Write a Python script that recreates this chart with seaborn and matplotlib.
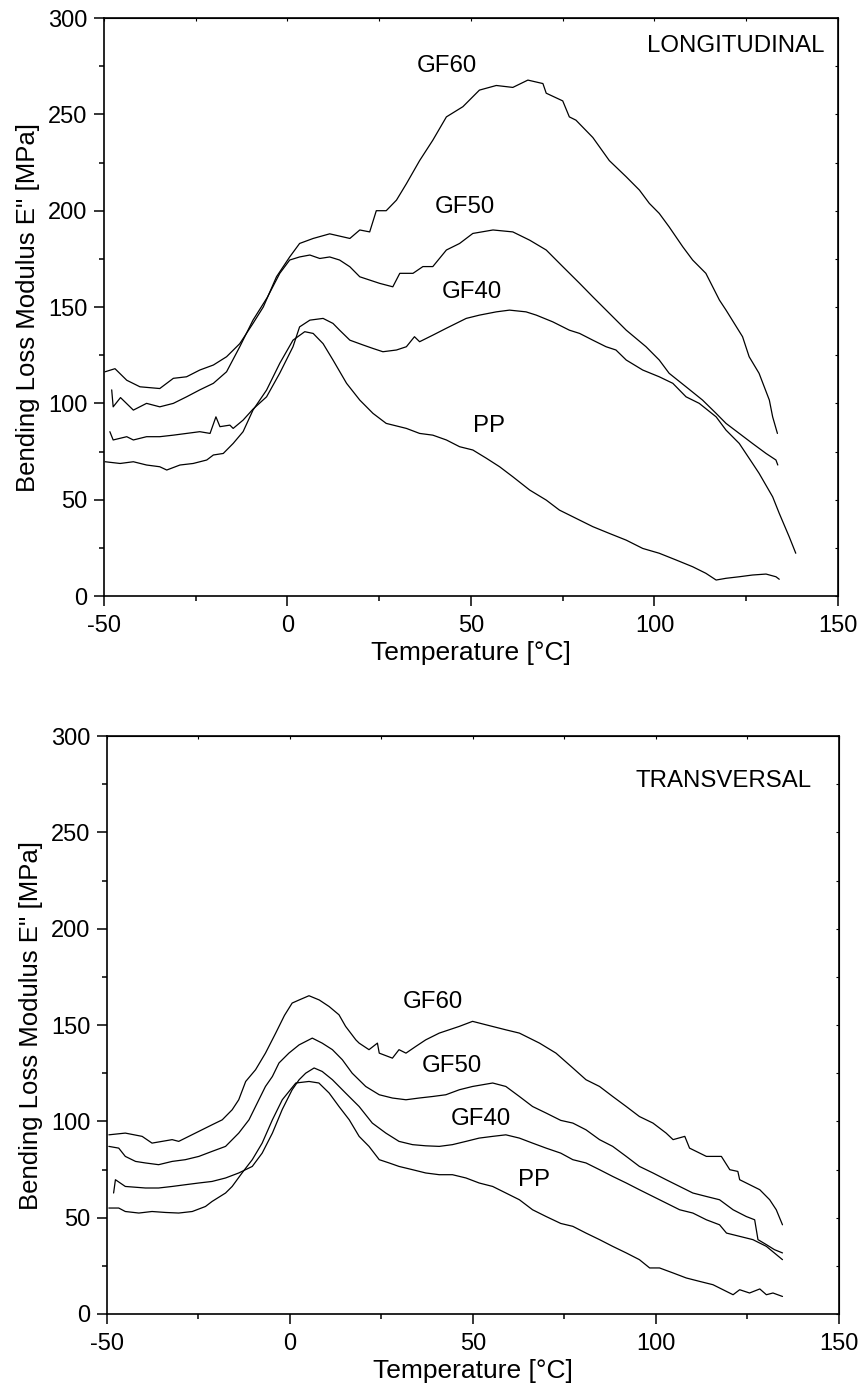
import matplotlib
matplotlib.use("Agg")
import matplotlib.pyplot as plt
import seaborn as sns
import pandas as pd
from matplotlib.ticker import MultipleLocator

# ---------------- DATA ----------------
# Longitudinal panel
long_gf60_T = [-49.7,-47,-43.8,-40.2,-34.8,-31.1,-27.5,-23.9,-20.2,-16.6,-13,-9.4,-6.6,-3,0.6,3.3,7,11.5,17,19.7,22.4,24.2,26.9,29.7,32.4,36,39.6,43.3,47.8,52.3,56.9,61.4,65.5,69.6,70.5,75,76.8,78.6,83.2,87.7,92.3,95.9,98.6,101.3,104,107.7,110.4,114,117.7,119.5,124,125.8,128.5,131.3,132.2,133.5]
long_gf60_E = [116.4,118,112,108.6,107.7,113,113.8,117.3,119.9,124.2,131,141.5,150,165.7,176,183,185.6,188,185.6,190,189,200,200,205.5,214,226,236.6,248.7,254,262.6,265,264,267.8,266,261,257,248.7,247,238,226,217.6,210.7,203.8,198.6,191.6,181.3,174.4,167.5,153.6,148.4,134.6,124.2,115.6,101.7,93,84.4]

long_gf50_T = [-47.9,-47.5,-45.5,-42,-38.4,-34.8,-31.1,-27.5,-23.9,-20.2,-16.6,-13,-9.4,-5.5,-2.1,0.6,3.3,6.1,8.8,11.5,14.2,17,19.7,22.4,25.1,28.7,30.6,34.2,36.9,39.6,43.3,46.9,50.5,56,61.4,66,70.5,75,79.6,83.2,92.3,97.7,101.3,104,108.6,113.1,116.8,119.5,123.1,126.7,130.4,133.1,133.6]
long_gf50_E = [107,98.2,103,96.5,100,98.2,100,103.4,107,110.4,116.4,129.4,143.2,155,167.5,174.4,176,177,175.2,176,174.4,170.9,165.7,164,162.3,160.5,167.5,167.5,171,171,179.6,183,188.2,190,189,184.7,179.6,171,162.3,155.3,138,129.4,122.5,115.6,108.6,101.7,94.8,89.6,84.4,79.2,74,70.6,68]

long_gf40_T = [-48.4,-47.5,-43.8,-42,-38.4,-34.8,-31.1,-27.5,-23.9,-21.1,-19.5,-18.4,-15.7,-14.8,-12.1,-9.4,-5.7,-2.1,1.5,3.3,6.1,9.7,12.4,14.2,17,20.6,23.3,26,29.7,32.4,34.6,36,39.6,43.3,48.7,52.3,56.9,60.5,65,67.8,72.3,76.8,79.6,83.2,86.8,89.5,92.3,96.8,101.3,105,108.6,112.2,116.8,119.5,123.1,126.7,128.5,132.2,134,136.7,138.5]
long_gf40_E = [85.3,81,82.7,81,82.7,82.7,83.5,84.4,85.3,84.4,93,87.9,88.7,87,91.3,97,103.4,115.7,129.4,139.7,143.2,144.1,141.5,138,132.8,130.3,128.5,126.8,127.7,129.4,134.6,132,135.4,139,144.1,145.8,147.5,148.4,147.5,145.8,142.3,138,136.3,132.8,129.4,127.7,122.5,117.3,113.8,110.4,103.4,100,93,86.1,79.2,68.9,63.7,51.5,42.9,30.8,22.2]

long_pp_T = [-49.7,-45.6,-42,-38.4,-34.8,-32.9,-29.3,-25.7,-22,-20.2,-17.5,-14.8,-12.1,-9.4,-5.7,-2.1,1.5,4.7,7,9.7,12.4,16.1,19.7,23.3,26.9,32.4,36,39.6,43.3,46.9,50.5,54.2,57.8,61.4,66,70.5,74.1,79.6,83.2,87.7,92.3,96.8,101.3,105.9,110.4,114,116.8,119.5,123.1,126.7,130.4,133.1,134]
long_pp_E = [69.7,68.8,69.7,68,67.1,65.4,68,68.8,70.6,73.2,74,79.2,85.3,96.5,106.9,120.8,132.8,137.2,136.3,131,122.5,110.4,101.7,94.8,89.6,87,84.4,83.5,81,77.5,75.8,71.5,67.1,61.9,55,49.8,44.6,39.4,36,32.5,29,24.7,22.2,18.7,15.2,11.8,8.3,9.2,10,10.9,11.4,10,8.7]

# Transversal panel
trans_gf60_T = [-49.5,-45,-40.4,-37.7,-32.2,-30.4,-24.9,-21.3,-18.5,-15.8,-14,-12.1,-9.4,-6.7,-3.9,-1.5,0.6,2.5,5.2,8,10.7,13.4,15.2,18,18.9,21.6,23.9,24.4,28,29.8,31.7,34.4,37.1,40.8,46.3,49.9,53.6,59,62.7,68.2,72.7,77.3,80.9,84.6,88.2,91.9,95.5,99.2,102.8,104.7,107.9,109.2,113.8,117.9,120.2,122.4,122.9,124.7,128.4,131.1,132.9,134.6]
trans_gf60_E = [93,93.9,92.2,88.7,90.5,89.6,94.8,98.2,100.8,106,111.2,120.7,126.8,135.4,145.8,155,161.4,163,165.2,163,159.6,155.3,149.3,142.3,140.6,137.2,140.6,135.4,132.8,137.2,135.4,138.9,142.3,145.8,149.3,151.9,150.1,147.5,145.8,140.6,135.4,127.7,121.6,118.1,112.9,107.7,102.5,99.1,93.9,90.5,92.2,86.1,81.8,81.8,74.9,74,69.7,68,64.5,59.3,54.1,46.3]

trans_gf50_T = [-49.5,-46.8,-45,-42.2,-39.5,-35.9,-32.2,-28.6,-24.9,-21.3,-17.6,-14,-11.2,-8.5,-6.7,-4.8,-3,-0.3,2.5,6.1,8.8,11.6,14.3,17,20.7,24.4,28,31.7,35.3,39,42.6,46.3,49.9,55.4,59,62.7,66.3,70,74,77.3,80.9,84.6,88.2,91.9,95.5,99.2,102.8,106.5,110.1,113.8,117.4,121.1,124.7,127,127.9,130.2,132.4,134.6]
trans_gf50_E = [87,86.1,81.8,79.2,78.4,77.5,79.2,80.1,81.8,84.4,87,93.9,100.8,111.2,118.1,123.3,130.3,135.4,139.7,143.2,140.6,137.2,132,125,118.1,113.8,112.1,111.2,112.1,112.9,113.8,116.4,118.1,119.9,118.1,112.9,107.7,104.3,100.5,99.1,95.6,90.5,87,81.8,76.6,73.2,69.7,66.2,62.8,61,59.3,54.1,50.6,48.9,38.6,36,33.4,31.7]

trans_gf40_T = [-48.2,-47.7,-45,-39.5,-35.9,-32.2,-28.6,-24.9,-21.3,-17.6,-14,-10.3,-7.6,-4.8,-2.1,0.6,2.5,4.3,6.6,8.8,11.6,15.2,18.9,22.5,26.2,29.8,33.5,37.1,40.8,44.4,48.1,51.7,55.4,59,62.7,66.3,70,74,77.3,80.9,84.6,88.2,91.9,95.5,99.2,102.8,106.5,110.1,113.8,117.4,119.3,122.9,126.5,130.2,134.6]
trans_gf40_E = [62.8,69.7,66.2,65.4,65.4,66.2,67.1,68,68.8,70.6,73.2,76.6,83.5,93.9,106.2,116.4,121.6,125,127.7,125.9,121.6,114.7,107.7,99.1,93.9,89.6,87.9,87.3,87,87.9,89.6,91.3,92.2,93,91.3,88.7,86.1,83.5,80.1,78.4,74.9,71.4,68,64.5,61,57.6,54.1,52.4,48.9,46.3,42,40.3,38.6,35.1,28.2]

trans_pp_T = [-49.5,-46.8,-45,-41.3,-37.7,-34,-30.4,-26.7,-23.1,-21.3,-17.6,-15.8,-13.1,-10.3,-7.6,-4.8,-2.1,1.6,5.2,7.9,10.7,13.4,16.2,18.9,21.6,24.4,27.1,29.8,33.5,37.1,40.8,44.4,48.1,51.7,55.4,59,62.7,66.3,70,74,77.3,80.9,84.6,88.2,91.9,95.5,98.3,101,104.7,108.3,112,115.6,119.3,121.1,122.9,125.6,128.4,130.2,132,134.6]
trans_pp_E = [55,55,53.2,52.4,53.2,52.7,52.4,53.2,55.8,58.4,62.8,66.2,73.2,80.1,88.7,100.8,111.2,119.9,120.7,119.9,114.7,107.7,100.8,92.2,87,80.1,78.4,76.6,74.9,73.2,72.3,72.3,70.6,68,66.2,62.8,59.3,54.1,50.6,47,45.5,42,38.6,35.1,31.7,28.2,23.9,23.9,21.3,18.7,16.9,15.2,11.7,10,12.6,10.9,13,10,10.9,9.1]

series_names = ["GF60", "GF50", "GF40", "PP"]
long_label_T = [43.4, 48.3, 50.3, 54.8]
long_label_E = [275, 202, 158, 88]
trans_label_T = [39, 44.3, 52.3, 66.7]
trans_label_E = [162, 128.5, 101.3, 69.7]
panel_titles = ["LONGITUDINAL", "TRANSVERSAL"]
x_ticks = [-50, 0, 50, 100, 150]
y_ticks = [0, 50, 100, 150, 200, 250, 300]
xlabel = "Temperature [°C]"
ylabel = "Bending Loss Modulus E'' [MPa]"

# ---------------- FIGURE ----------------
sns.set_style("ticks")
plt.rcParams['font.family'] = ['Liberation Sans', 'DejaVu Sans']
plt.rcParams['axes.unicode_minus'] = False
plt.rcParams['text.color'] = 'black'
plt.rcParams['axes.labelcolor'] = 'black'
plt.rcParams['xtick.color'] = 'black'
plt.rcParams['ytick.color'] = 'black'
plt.rcParams['axes.edgecolor'] = 'black'

fig = plt.figure(figsize=(8.63, 13.89), dpi=100)
ax1 = fig.add_axes([0.1205, 0.5709, 0.8505, 0.4161])
ax2 = fig.add_axes([0.124, 0.0540, 0.848, 0.4161])


def make_df(Ts, Es):
    frames = []
    for name, t, e in zip(series_names, Ts, Es):
        frames.append(pd.DataFrame({"T": t, "E": e, "series": name}))
    return pd.concat(frames, ignore_index=True)


df_long = make_df([long_gf60_T, long_gf50_T, long_gf40_T, long_pp_T],
                  [long_gf60_E, long_gf50_E, long_gf40_E, long_pp_E])
df_trans = make_df([trans_gf60_T, trans_gf50_T, trans_gf40_T, trans_pp_T],
                   [trans_gf60_E, trans_gf50_E, trans_gf40_E, trans_pp_E])

panels = [(ax1, df_long, long_label_T, long_label_E, panel_titles[0], 146.2, 285.4),
          (ax2, df_trans, trans_label_T, trans_label_E, panel_titles[1], 142.6, 276.7)]

for ax, df, lt, le, title, tx, ty in panels:
    sns.lineplot(data=df, x="T", y="E", units="series", estimator=None,
                 sort=False, color="black", linewidth=0.9, ax=ax, legend=False)
    ax.set_xlim(-50, 150)
    ax.set_ylim(0, 300)
    ax.set_xticks(x_ticks)
    ax.set_yticks(y_ticks)
    ax.xaxis.set_minor_locator(MultipleLocator(25))
    ax.yaxis.set_minor_locator(MultipleLocator(25))
    ax.tick_params(which="major", direction="out", length=7, width=1.1,
                   labelsize=17, colors="black")
    ax.tick_params(axis="x", which="major", pad=6.5)
    ax.tick_params(axis="y", which="major", pad=5)
    ax.tick_params(which="minor", direction="out", length=3.8, width=1.1)
    for s in ax.spines.values():
        s.set_visible(True)
        s.set_linewidth(1.2)
        s.set_color("black")
    # mirrored small inward ticks on top/right
    sx = ax.secondary_xaxis("top")
    sx.set_xticks(x_ticks)
    sx.xaxis.set_minor_locator(MultipleLocator(25))
    sx.tick_params(which="both", direction="in", length=2.5, width=0.8, labeltop=False)
    sy = ax.secondary_yaxis("right")
    sy.set_yticks(y_ticks)
    sy.yaxis.set_minor_locator(MultipleLocator(25))
    sy.tick_params(which="both", direction="in", length=2.5, width=0.8, labelright=False)

    ax.set_xlabel(xlabel, fontsize=19, labelpad=3, color="black")
    ax.set_ylabel(ylabel, fontsize=18.5, labelpad=6, color="black")
    for name, x, y in zip(series_names, lt, le):
        ax.text(x, y, name, fontsize=17.3, ha="center", va="center", color="black")
    ax.text(tx, ty, title, fontsize=17.3, ha="right", va="center", color="black")

fig.savefig("out.png", dpi=100)
